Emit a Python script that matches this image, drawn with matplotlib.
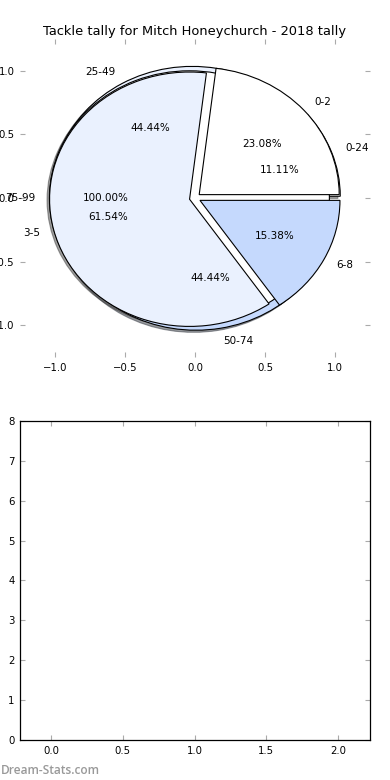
import matplotlib
matplotlib.use("Agg")
import matplotlib.pyplot as plt

title = "Tackle tally for Mitch Honeychurch - 2018 tally"

# pie A: season tackle ranges
labels_a = ["0-24", "25-49", "50-74"]
values_a = [1, 4, 4]
# pie C: single-range
labels_c = ["75-99"]
values_c = [1]
# pie B: per-game ranges
labels_b = ["0-2", "3-5", "6-8"]
values_b = [3, 8, 2]

colors3 = ["#ffffff", "#eaf1fe", "#c5d9fd"]

x_ticks_top = [-1.0, -0.5, 0.0, 0.5, 1.0]
y_ticks_top = [-1.0, -0.5, 0.0, 0.5, 1.0]
x_ticks_bot = [0.0, 0.5, 1.0, 1.5, 2.0]
y_ticks_bot = [0, 1, 2, 3, 4, 5, 6, 7, 8]

plt.rcParams['font.family'] = ['DejaVu Sans']

fig = plt.figure(figsize=(3.9, 7.8), dpi=100)
fig.patch.set_facecolor("white")
ax1 = fig.add_axes([0.0513, 0.5423, 0.8974, 0.4077])
ax2 = fig.add_axes([0.0513, 0.0513, 0.8974, 0.409])

tp = dict(fontsize=7.5)
wp = dict(edgecolor="black", linewidth=0.8)
shd = dict(ox=-0.012, oy=-0.012, shade=0.75)

ax1.pie(values_a, labels=labels_a, colors=colors3, explode=[0.04] * 3,
        autopct="%1.2f%%", shadow=shd, startangle=0, textprops=tp, wedgeprops=wp)
ax1.pie(values_c, labels=labels_c, colors=["#ffffff"], explode=[0.04],
        autopct="%1.2f%%", shadow=shd, startangle=0, textprops=tp, wedgeprops=wp)
ax1.pie(values_b, labels=labels_b, colors=colors3, explode=[0.04] * 3,
        autopct="%1.2f%%", shadow=False, startangle=0, textprops=tp, wedgeprops=wp)

ax1.set_aspect("auto")
ax1.set_frame_on(False)
ax1.set_xlim(-1.25, 1.25)
ax1.set_ylim(-1.25, 1.25)
ax1.set_xticks(x_ticks_top)
ax1.set_yticks(y_ticks_top)
ax1.set_title(title, fontsize=9.4, pad=3)

ax2.set_xlim(-0.216, 2.222)
ax2.set_ylim(0, 8)
ax2.set_xticks(x_ticks_bot)
ax2.set_yticks(y_ticks_bot)
for s in ax2.spines.values():
    s.set_linewidth(0.9)

for ax in (ax1, ax2):
    ax.tick_params(direction="in", top=True, right=True, length=3.5, width=0.8,
                   color="#aaaaaa", labelsize=7.3, pad=4)

fig.text(0.002, 0.008, "Dream-Stats.com", fontsize=8.6, color="#999999",
         family=["Open Sans", "DejaVu Sans"], weight="semibold")

fig.savefig("out.png", dpi=100, facecolor="white")
